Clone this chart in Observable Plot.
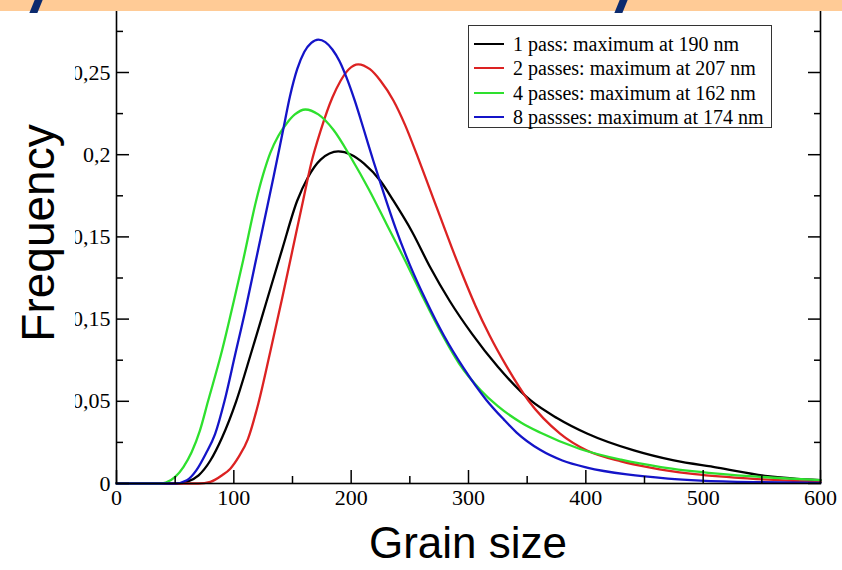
<!DOCTYPE html>
<html>
<head>
<meta charset="utf-8">
<script src="https://cdn.jsdelivr.net/npm/d3@7"></script>
<script src="https://cdn.jsdelivr.net/npm/@observablehq/plot@0.6"></script>
<style>
  html, body { margin: 0; padding: 0; background: #fff; }
  #wrap { position: relative; width: 842px; height: 570px; overflow: hidden; background: #fff; }
  #band { position: absolute; left: 0; top: 0; width: 842px; height: 11px; background: #ffcb96; z-index: 5; }
  .slash { position: absolute; top: 0; width: 8px; height: 13px; background: #0b2a6e; transform: skewX(-22deg); z-index: 6; }
  #ylab { position: absolute; left: 0; top: 45px; width: 75px; height: 375px; background: #fff; z-index: 4; }
  #ylab span { position: absolute; left: 50%; top: 50%; transform: translate(-50%, -50%) rotate(-90deg);
    font-family: "Liberation Sans", Arial, sans-serif; font-size: 46px; white-space: nowrap; color: #000; }
  #xlab { position: absolute; left: 0; width: 936px; top: 521px; text-align: center; line-height: 44px;
    font-family: "Liberation Sans", Arial, sans-serif; font-size: 44px; color: #000; z-index: 4; }
  #legend { position: absolute; left: 468px; top: 25px; width: 302px; height: 101px; border: 1.5px solid #333;
    background: #fff; z-index: 4; font-family: "Liberation Serif", "Times New Roman", serif; font-size: 20px; }
  .row { position: absolute; left: 0; height: 24px; line-height: 24px; white-space: nowrap; }
  .sw { position: absolute; left: 5px; top: 11px; width: 30px; height: 2px; }
  .lt { position: absolute; left: 44px; top: 0; }
</style>
</head>
<body>
<div id="wrap">
  <div id="chart"></div>
  <div id="band"></div>
  <div class="slash" style="left:32px"></div>
  <div class="slash" style="left:617px"></div>
  <div id="ylab"><span>Frequency</span></div>
  <div id="xlab">Grain size</div>
  <div id="legend"></div>
</div>
<script>
// ---- data ----
const seriesNames = ["1 pass: maximum at 190 nm", "2 passes: maximum at 207 nm", "4 passes: maximum at 162 nm", "8 passses: maximum at 174 nm"];
const seriesColors = ["#000000", "#dc2222", "#2ee02e", "#1414c8"];

// 1 pass (black)
const pass1X = [0, 52, 60, 70, 80, 90, 102, 115, 128, 141, 154, 163, 174, 189, 200, 211, 225, 236, 252, 267, 284, 303, 325, 353, 375, 401, 441, 475, 512, 555, 600];
const pass1Y = [0, 0, 0.001, 0.005, 0.014, 0.028, 0.050, 0.080, 0.111, 0.142, 0.172, 0.186, 0.197, 0.202, 0.2, 0.1946, 0.184, 0.172, 0.153, 0.132, 0.111, 0.091, 0.071, 0.0505, 0.040, 0.0304, 0.0201, 0.014, 0.0097, 0.0045, 0.002];

// 2 passes (red)
const pass2X = [0, 70, 80, 90, 97, 104, 112, 121, 131, 141, 150, 159, 166, 174, 184, 191, 198, 206, 216, 225, 236, 246, 256, 266, 276, 286, 296, 306, 318, 333, 351, 378, 401, 430, 455, 489, 540, 600];
const pass2Y = [0, 0, 0.001, 0.005, 0.009, 0.016, 0.027, 0.049, 0.080, 0.112, 0.142, 0.172, 0.195, 0.2147, 0.2348, 0.245, 0.252, 0.255, 0.252, 0.245, 0.233, 0.218, 0.200, 0.181, 0.162, 0.143, 0.125, 0.108, 0.090, 0.0706, 0.0505, 0.0304, 0.0201, 0.0135, 0.0097, 0.006, 0.003, 0.001];

// 4 passes (green)
const pass4X = [0, 38, 42, 50, 57, 64, 71, 78, 90, 100, 108, 119, 125, 131, 138, 145, 152, 161, 172, 185, 200, 215, 230, 245, 260, 275, 292, 310, 325, 345, 361, 395, 430, 464, 512, 560, 600];
const pass4Y = [0, 0, 0.0005, 0.004, 0.010, 0.019, 0.032, 0.050, 0.081, 0.111, 0.136, 0.172, 0.188, 0.201, 0.2115, 0.219, 0.2245, 0.2275, 0.2245, 0.215, 0.198, 0.179, 0.158, 0.137, 0.115, 0.094, 0.073, 0.057, 0.047, 0.037, 0.031, 0.021, 0.0145, 0.0100, 0.006, 0.0035, 0.002];

// 8 passes (blue)
const pass8X = [0, 50, 60, 68, 76, 84, 92, 101, 110, 118, 126, 134, 142, 148, 154, 160, 166, 172, 178, 184, 190, 196, 203, 211, 219, 228, 238, 250, 264, 279, 296, 315, 330, 341, 361, 380, 401, 435, 470, 498, 550, 600];
const pass8Y = [0, 0, 0.002, 0.008, 0.018, 0.030, 0.050, 0.078, 0.106, 0.133, 0.160, 0.187, 0.215, 0.236, 0.252, 0.2625, 0.268, 0.270, 0.2685, 0.264, 0.257, 0.247, 0.233, 0.2147, 0.196, 0.176, 0.155, 0.133, 0.111, 0.090, 0.070, 0.051, 0.039, 0.031, 0.0205, 0.014, 0.0097, 0.0055, 0.003, 0.0018, 0.0008, 0.0004];

const xTicks = [0, 100, 200, 300, 400, 500, 600];
const xMinorTicks = [50, 150, 250, 350, 450, 550];
const yTicks = [0, 0.05, 0.1, 0.15, 0.2, 0.25];
const yTickLabels = ["0", "0,05", "0,15", "0,15", "0,2", "0,25"];
const yMinorTicks = [0.025, 0.075, 0.125, 0.175, 0.225, 0.275];

// ---- build table ----
const seriesX = [pass1X, pass2X, pass4X, pass8X];
const seriesY = [pass1Y, pass2Y, pass4Y, pass8Y];
const rows = [];
seriesNames.forEach((name, i) => {
  seriesX[i].forEach((x, j) => rows.push({series: name, x, y: seriesY[i][j]}));
});

const chart = Plot.plot({
  width: 842,
  height: 570,
  marginLeft: 116,
  marginRight: 22,
  marginTop: 0,
  marginBottom: 87,
  style: {fontFamily: "'Liberation Serif', 'Times New Roman', serif", fontSize: "22px", color: "#000", background: "#fff", overflow: "visible"},
  x: {domain: [0, 600]},
  y: {domain: [0, 483 / 1644]},
  color: {domain: seriesNames, range: seriesColors},
  marks: [
    Plot.line(rows, {x: "x", y: "y", z: "series", stroke: "series", strokeWidth: 2.3, curve: "monotone-x"}),
    Plot.axisX(xTicks, {anchor: "bottom", tickSize: -13, tickPadding: 19, strokeWidth: 1.5, label: null, tickFormat: d => String(d)}),
    Plot.axisX(xMinorTicks, {anchor: "bottom", tickSize: -7, strokeWidth: 1.5, text: null, label: null}),
    Plot.axisY(yTicks, {anchor: "left", tickSize: -13, tickPadding: 19, strokeWidth: 1.5, label: null, tickFormat: d => yTickLabels[yTicks.indexOf(d)]}),
    Plot.axisY(yMinorTicks, {anchor: "left", tickSize: -7, strokeWidth: 1.5, text: null, label: null}),
    Plot.axisY(yTicks, {anchor: "right", tickSize: -13, strokeWidth: 1.5, text: null, label: null}),
    Plot.axisY(yMinorTicks, {anchor: "right", tickSize: -7, strokeWidth: 1.5, text: null, label: null}),
    Plot.frame({stroke: "#000", strokeWidth: 1.6})
  ]
});
document.getElementById("chart").appendChild(chart);

// ---- legend ----
const legend = document.getElementById("legend");
const rowTops = [6, 30, 55, 79];
seriesNames.forEach((name, i) => {
  const r = document.createElement("div");
  r.className = "row";
  r.style.top = rowTops[i] + "px";
  r.innerHTML = `<div class="sw" style="background:${seriesColors[i]}"></div><div class="lt">${name}</div>`;
  legend.appendChild(r);
});
</script>
</body>
</html>
